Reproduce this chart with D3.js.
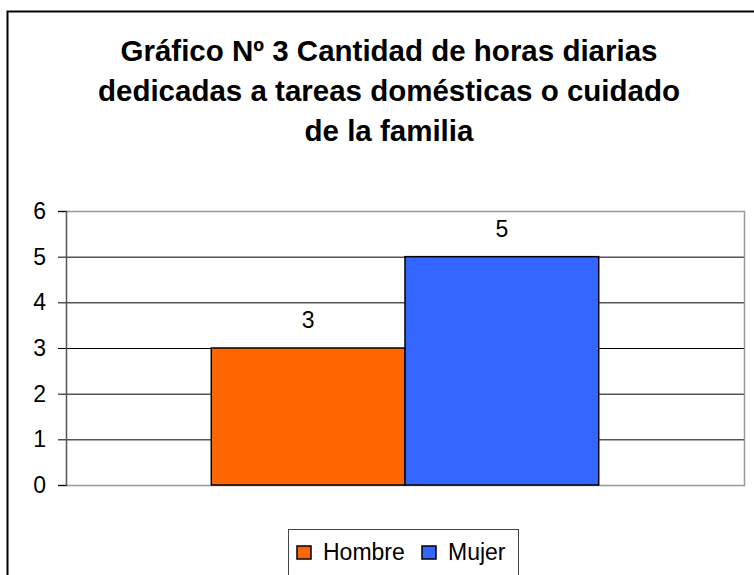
<!DOCTYPE html>
<html>
<head>
<meta charset="utf-8">
<script src="https://cdn.jsdelivr.net/npm/d3@7"></script>
<style>
  body { margin: 0; background: #fff; }
  text { font-family: "Liberation Sans", Arial, sans-serif; }
</style>
</head>
<body>
<svg id="chart"></svg>
<script>
// Chart data
const titleLines = [
  "Gráfico Nº 3 Cantidad de horas diarias",
  "dedicadas a tareas domésticas o cuidado",
  "de la familia"
];
const groups = ["Total"];
const series = ["Hombre", "Mujer"];
const values = [3, 5];
const colors = ["#FF6600", "#3366FF"];
const yTicks = [0, 1, 2, 3, 4, 5, 6];

const width = 754;
const height = 575;
const plot = { left: 66, right: 744, top: 211, bottom: 485 };

const svg = d3.select("#chart")
    .attr("width", width)
    .attr("height", height);

// Outer chart frame (runs off the right and bottom edge)
svg.append("rect")
    .attr("x", 7.5).attr("y", 11.5)
    .attr("width", 800).attr("height", 600)
    .attr("fill", "#fff")
    .attr("stroke", "#000")
    .attr("stroke-width", 2);

// Title
svg.append("g")
    .selectAll("text")
    .data(titleLines)
    .join("text")
    .attr("x", 389)
    .attr("y", (d, i) => 61 + i * 40)
    .attr("text-anchor", "middle")
    .attr("font-size", 29.5)
    .attr("font-weight", "bold")
    .text(d => d);

// Scales
const yScale = d3.scaleLinear()
    .domain([0, 6])
    .range([plot.bottom, plot.top]);

const x0 = d3.scaleBand()
    .domain(groups)
    .range([plot.left, plot.right])
    .paddingInner(0)
    .paddingOuter(0.375);

const x1 = d3.scaleBand()
    .domain(series)
    .range([0, x0.bandwidth()]);

// Gridlines
svg.append("g")
    .selectAll("line")
    .data(yTicks.filter(t => t > 0 && t < 6))
    .join("line")
    .attr("x1", plot.left).attr("x2", plot.right)
    .attr("y1", d => yScale(d) + 0.5).attr("y2", d => yScale(d) + 0.5)
    .attr("stroke", "#000");

// Plot border (top, right, bottom in gray)
svg.append("path")
    .attr("d", `M${plot.left},${plot.top + 0.5}H${plot.right + 0.5}V${plot.bottom + 0.5}H${plot.left}`)
    .attr("fill", "none")
    .attr("stroke", "#999")
    .attr("stroke-width", 1.5);

// Bars
const barG = svg.append("g")
    .attr("transform", `translate(${x0("Total")},0)`);

barG.selectAll("rect")
    .data(series)
    .join("rect")
    .attr("x", d => x1(d))
    .attr("y", (d, i) => yScale(values[i]))
    .attr("width", x1.bandwidth())
    .attr("height", (d, i) => plot.bottom - yScale(values[i]))
    .attr("fill", (d, i) => colors[i])
    .attr("stroke", "#000")
    .attr("stroke-width", 1.5);

// Value labels
barG.selectAll("text")
    .data(series)
    .join("text")
    .attr("x", d => x1(d) + x1.bandwidth() / 2)
    .attr("y", (d, i) => yScale(values[i]) - 20)
    .attr("text-anchor", "middle")
    .attr("font-size", 23)
    .text((d, i) => values[i]);

// Y axis
const yAxis = d3.axisLeft(yScale)
    .tickValues(yTicks)
    .tickSize(8)
    .tickPadding(12)
    .tickFormat(d3.format("d"));

const yG = svg.append("g")
    .attr("transform", `translate(${plot.left},0)`)
    .call(yAxis);

yG.select(".domain").attr("stroke", "#555").attr("stroke-width", 1.5);
yG.selectAll(".tick line").attr("stroke", "#000");
yG.selectAll(".tick text")
    .attr("font-size", 23)
    .attr("font-family", "Liberation Sans, Arial, sans-serif")
    .attr("fill", "#000");

// Legend
const legend = svg.append("g");
legend.append("rect")
    .attr("x", 288.5).attr("y", 529.5)
    .attr("width", 230).attr("height", 60)
    .attr("fill", "#fff")
    .attr("stroke", "#444");

const legendX = [297, 422];
const items = legend.selectAll("g.item")
    .data(series)
    .join("g")
    .attr("class", "item")
    .attr("transform", (d, i) => `translate(${legendX[i]},546)`);

items.append("rect")
    .attr("width", 14).attr("height", 13)
    .attr("fill", (d, i) => colors[i])
    .attr("stroke", "#000")
    .attr("stroke-width", 1.5);

items.append("text")
    .attr("x", 26)
    .attr("y", 14)
    .attr("font-size", 23)
    .text(d => d);
</script>
</body>
</html>
